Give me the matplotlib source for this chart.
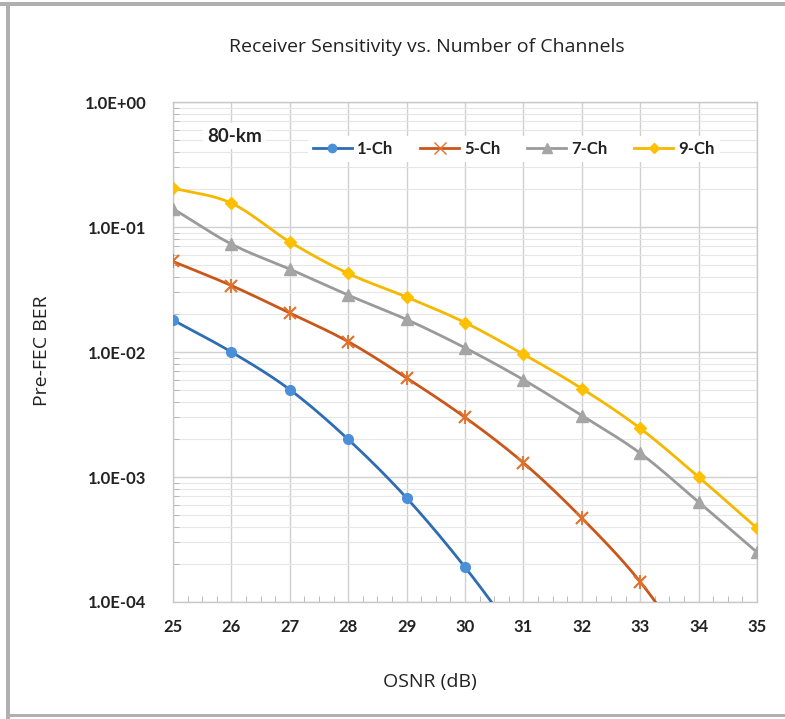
import numpy as np
import matplotlib
matplotlib.use("Agg")
import matplotlib.pyplot as plt
from matplotlib.ticker import LogLocator, FixedLocator, NullFormatter, MultipleLocator
from matplotlib.patches import Rectangle
from matplotlib.lines import Line2D

osnr = [25, 26, 27, 28, 29, 30, 31, 32, 33, 34, 35]
ber_1ch = [0.018, 0.010, 0.0050, 0.0020, 0.00068, 0.00019, 0.000045]
ber_5ch = [0.053, 0.034, 0.0205, 0.0121, 0.0062, 0.0030, 0.0013, 0.00047, 0.000145, 0.000032]
ber_7ch = [0.140, 0.073, 0.046, 0.0285, 0.0182, 0.0108, 0.0060, 0.0031, 0.00155, 0.00063, 0.00025]
ber_9ch = [0.205, 0.155, 0.076, 0.0425, 0.0275, 0.0172, 0.0096, 0.0051, 0.00245, 0.00100, 0.00039]
labels = ["1-Ch", "5-Ch", "7-Ch", "9-Ch"]
ytick_labels = ["1.0E-04", "1.0E-03", "1.0E-02", "1.0E-01", "1.0E+00"]

line_colors = ["#2E6DB4", "#C9571A", "#9A9A9A", "#F5B800"]
marker_colors = ["#4A8FD8", "#E0702A", "#A5A5A5", "#FFC000"]
markers = ["o", "x", "^", "D"]
msizes = [7, 9, 8, 6]


def smooth(x, y, n=30):
    # Catmull-Rom style smoothing (like Excel smoothed lines) in log space
    x = np.asarray(x, float)
    y = np.log10(np.asarray(y, float))
    px = np.concatenate([[2 * x[0] - x[1]], x, [2 * x[-1] - x[-2]]])
    py = np.concatenate([[2 * y[0] - y[1]], y, [2 * y[-1] - y[-2]]])
    xs, ys = [], []
    for i in range(1, len(px) - 2):
        t = np.linspace(0, 1, n, endpoint=(i == len(px) - 3))
        for arr, out in ((px, xs), (py, ys)):
            p0, p1, p2, p3 = arr[i - 1], arr[i], arr[i + 1], arr[i + 2]
            out.append(0.5 * ((2 * p1) + (-p0 + p2) * t + (2 * p0 - 5 * p1 + 4 * p2 - p3) * t ** 2
                              + (-p0 + 3 * p1 - 3 * p2 + p3) * t ** 3))
    return np.concatenate(xs), 10 ** np.concatenate(ys)


fig = plt.figure(figsize=(7.85, 7.19), dpi=100)
W, H = 785, 719

# outer frame lines (gray) on top, left, bottom
fig.add_artist(Rectangle((0, 1 - 6 / H), 1, 4 / H, transform=fig.transFigure,
                         facecolor="#B0B0B0", edgecolor="none"))
fig.add_artist(Rectangle((6 / W, 0), 4 / W, 1 - 2 / H, transform=fig.transFigure,
                         facecolor="#B0B0B0", edgecolor="none"))
fig.add_artist(Rectangle((6 / W, 2 / H), 1 - 6 / W, 3 / H, transform=fig.transFigure,
                         facecolor="#B0B0B0", edgecolor="none"))

ax = fig.add_axes([173 / W, 1 - 602 / H, (757 - 173) / W, (602 - 102) / H])
ax.set_yscale("log")
ax.set_xlim(25, 35)
ax.set_ylim(1e-4, 1)

ax.grid(True, which="major", color="#D0D0D0", lw=1.0)
ax.grid(True, which="minor", axis="y", color="#E6E6E6", lw=0.8)
ax.set_axisbelow(True)
for s in ax.spines.values():
    s.set_color("#C8C8C8")
    s.set_linewidth(1.0)

series = [ber_1ch, ber_5ch, ber_7ch, ber_9ch]
handles = []
for i, b in enumerate(series):
    xv = osnr[:len(b)]
    sx, sy = smooth(xv, b)
    ax.plot(sx, sy, color=line_colors[i], lw=2.0, zorder=3)
    mew = 1.5 if markers[i] == "x" else 1.0
    ax.plot(xv, b, ls="none", marker=markers[i], ms=msizes[i], color=marker_colors[i],
            mec=marker_colors[i], mew=mew, zorder=4)
    if markers[i] == "x":
        ax.plot(xv, b, ls="none", marker="|", ms=msizes[i] + 1, color=marker_colors[i],
                mew=1.3, zorder=4)
    handles.append(Line2D([], [], color=line_colors[i], lw=2.0, marker=markers[i],
                          ms=msizes[i] - 1, mfc=marker_colors[i], mec=marker_colors[i]))

ax.xaxis.set_major_locator(MultipleLocator(1))
ax.xaxis.set_minor_locator(MultipleLocator(0.25))
ax.yaxis.set_major_locator(FixedLocator([1e-4, 1e-3, 1e-2, 1e-1, 1]))
ax.yaxis.set_minor_locator(LogLocator(base=10, subs=np.arange(2, 10)))
ax.yaxis.set_minor_formatter(NullFormatter())
ax.set_yticklabels(ytick_labels)
ax.set_xticks(osnr)
ax.set_xticklabels([str(v) for v in osnr])

for lab in ax.get_xticklabels() + ax.get_yticklabels():
    lab.set_fontfamily("Lato")
    lab.set_fontweight("bold")
    lab.set_fontsize(12)
    lab.set_color("#222222")
ax.tick_params(axis="both", which="minor", direction="in", length=4, color="#B0B0B0")
ax.tick_params(axis="y", which="major", length=0, pad=19)
ax.tick_params(axis="x", which="major", length=0, pad=12)

leg = ax.legend(handles, labels, loc="center left", bbox_to_anchor=(0.231, 0.906),
                ncol=4, frameon=True, framealpha=1, edgecolor="none", facecolor="white",
                handlelength=2.35, handletextpad=0.3, columnspacing=1.6, borderpad=0.3,
                borderaxespad=0,
                prop=dict(family="Lato", weight="bold", size=12))
for t in leg.get_texts():
    t.set_color("#222222")
ax.text(0.058, 0.932, "80-km", transform=ax.transAxes, ha="left", va="center",
        fontfamily="Lato", fontweight="bold", fontsize=13.5, color="#222222",
        bbox=dict(facecolor="white", edgecolor="none", pad=3), zorder=5)

fig.text(427 / W, 1 - 47 / H, "Receiver Sensitivity vs. Number of Channels", ha="center",
         va="center", fontfamily="Open Sans", fontsize=14, color="#222222")
fig.text(430 / W, 1 - 682 / H, "OSNR (dB)", ha="center", va="center",
         fontfamily="Open Sans", fontsize=14, color="#222222")
fig.text(42 / W, 1 - 351 / H, "Pre-FEC BER", ha="center", va="center", rotation=90,
         fontfamily="Open Sans", fontsize=14, color="#222222")

fig.savefig("out.png", dpi=100)
